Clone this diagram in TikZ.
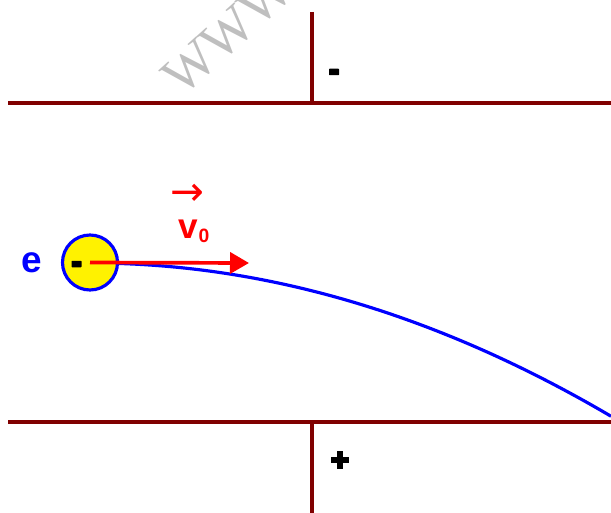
\documentclass[tikz,border=0pt]{standalone}
\usepackage{fontspec}
\setmainfont{Liberation Sans}
\newfontfamily\wmfont{Liberation Serif}
\newfontfamily\symfont{DejaVu Sans}
\usetikzlibrary{arrows.meta}
\definecolor{plate}{HTML}{800000}
\definecolor{eblue}{HTML}{0000FF}
\definecolor{ered}{HTML}{FF0000}
\begin{document}
\begin{tikzpicture}[x=0.02cm,y=-0.02cm,
  platel/.style={draw=plate,line width=1.8pt},
  signmark/.style={fill=black,inner sep=0pt},
  lbl/.style={inner sep=0pt}]
\useasboundingbox (0,0) rectangle (611,513);
\clip (0,0) rectangle (611,513);
% watermark
\node[rotate=42,text=black!25,font=\wmfont\fontsize{31}{31}\selectfont,anchor=base west,inner sep=0pt] (wm) at (182,98) {WWW.};
% plates
\coordinate (tl) at (8,103); \coordinate (tr) at (611,103);
\coordinate (tt) at (312,12); \coordinate (tb) at (312,103);
\coordinate (bl) at (8,422); \coordinate (br) at (611,422);
\coordinate (bt) at (312,422); \coordinate (bb) at (312,513);
\draw[platel] (tl) -- (tr);
\draw[platel] (tt) -- (tb);
\draw[platel] (bl) -- (br);
\draw[platel] (bt) -- (bb);
% signs
\node[signmark,minimum width=0.2cm,minimum height=0.13cm,rounded corners=0.4pt] (minus) at (334,72) {};
\node[signmark,minimum width=0.36cm,minimum height=0.13cm] (plush) at (340,460) {};
\node[signmark,minimum width=0.13cm,minimum height=0.36cm] (plusv) at (340,460) {};
% trajectory
\draw[eblue,line width=1.8pt] plot[domain=90:611,samples=80,smooth] (\x,{263+0.000568*(\x-90)*(\x-90)});
% electron
\node[circle,draw=eblue,fill=yellow,line width=1.8pt,minimum size=1.1cm,inner sep=0pt] (el) at (90,262.5) {};
\node[signmark,minimum width=0.2cm,minimum height=0.13cm,rounded corners=0.4pt] (eminus) at (76.5,264) {};
\node[lbl,text=eblue,font=\bfseries\fontsize{21}{21}\selectfont] (e) at (32,263) {e};
% velocity
\coordinate (vtip) at (249,263);
\draw[ered,line width=2.1pt,-{Triangle[length=0.38cm,width=0.42cm]}] (el.center) -- (vtip);
\node[lbl,text=ered,font=\bfseries\fontsize{20}{20}\selectfont,anchor=base west] (v) at (178,238) {v};
\node[lbl,text=ered,font=\bfseries\fontsize{11}{11}\selectfont,anchor=base west] (vsub) at (v.base east) {\raisebox{-2.8pt}{0}};
\node[lbl,text=ered,font=\symfont\fontsize{23}{23}\selectfont] (varr) at (187.5,195) {→};
\end{tikzpicture}
\end{document}
